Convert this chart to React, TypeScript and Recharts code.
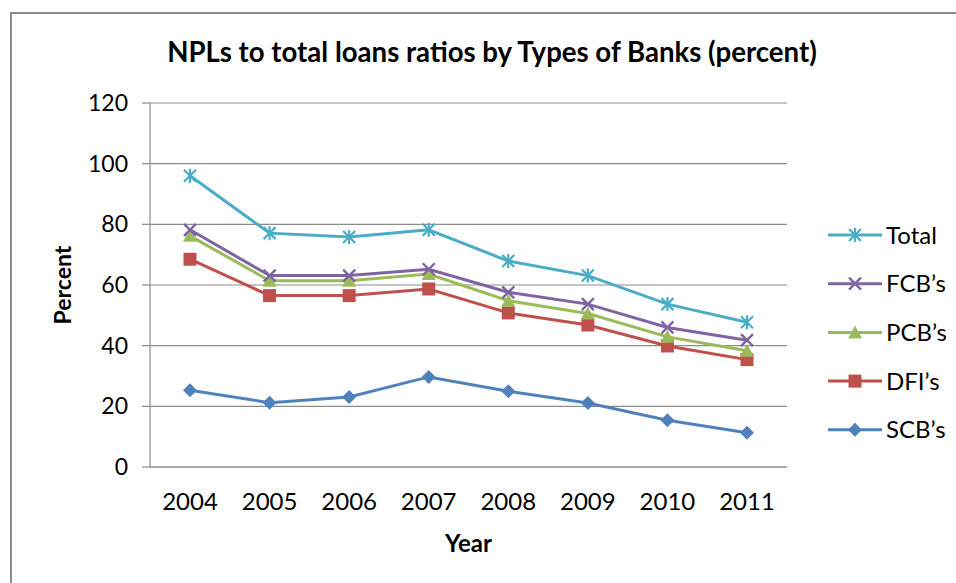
import React from "react";
import {
  LineChart,
  Line,
  XAxis,
  YAxis,
  CartesianGrid,
  Label,
} from "recharts";

const years = ["2004", "2005", "2006", "2007", "2008", "2009", "2010", "2011"];
const total = [96.0, 77.1, 75.8, 78.2, 67.9, 63.1, 53.7, 47.7];
const fcb = [78.2, 63.1, 63.1, 65.2, 57.6, 53.7, 46.0, 41.8];
const pcb = [76.2, 61.4, 61.4, 63.6, 54.8, 50.6, 42.9, 38.3];
const dfi = [68.5, 56.5, 56.5, 58.7, 50.8, 46.8, 39.9, 35.4];
const scb = [25.3, 21.2, 23.1, 29.7, 25.0, 21.1, 15.4, 11.3];
const yTicks = [0, 20, 40, 60, 80, 100, 120];

const data = years.map((year, i) => ({
  year,
  total: total[i],
  fcb: fcb[i],
  pcb: pcb[i],
  dfi: dfi[i],
  scb: scb[i],
}));

const FONT = "Lato, 'Open Sans', sans-serif";

type MarkerKind = "star" | "x" | "triangle" | "square" | "diamond";

function Marker({ kind, cx, cy, color }: { kind: MarkerKind; cx: number; cy: number; color: string }) {
  const s = 6;
  if (kind === "star") {
    return (
      <g stroke={color} strokeWidth={2.2}>
        <line x1={cx - s} y1={cy - s} x2={cx + s} y2={cy + s} />
        <line x1={cx - s} y1={cy + s} x2={cx + s} y2={cy - s} />
        <line x1={cx} y1={cy - s - 1} x2={cx} y2={cy + s + 1} />
      </g>
    );
  }
  if (kind === "x") {
    return (
      <g stroke={color} strokeWidth={2.4}>
        <line x1={cx - s} y1={cy - s} x2={cx + s} y2={cy + s} />
        <line x1={cx - s} y1={cy + s} x2={cx + s} y2={cy - s} />
      </g>
    );
  }
  if (kind === "triangle") {
    return <path d={`M${cx},${cy - 7} L${cx + 7},${cy + 6} L${cx - 7},${cy + 6} Z`} fill={color} />;
  }
  if (kind === "square") {
    return <rect x={cx - 6.5} y={cy - 6.5} width={13} height={13} fill={color} />;
  }
  return <path d={`M${cx},${cy - 7} L${cx + 7},${cy} L${cx},${cy + 7} L${cx - 7},${cy} Z`} fill={color} />;
}

const seriesList: { key: string; name: string; color: string; kind: MarkerKind }[] = [
  { key: "total", name: "Total", color: "#4BACC6", kind: "star" },
  { key: "fcb", name: "FCB’s", color: "#8064A2", kind: "x" },
  { key: "pcb", name: "PCB’s", color: "#9BBB59", kind: "triangle" },
  { key: "dfi", name: "DFI’s", color: "#C0504D", kind: "square" },
  { key: "scb", name: "SCB’s", color: "#4F81BD", kind: "diamond" },
];

function LegendBox() {
  return (
    <svg width={140} height={240} style={{ position: "absolute", left: 822, top: 221 }}>
      {seriesList.map((s, i) => {
        const y = 14 + i * 48.7;
        return (
          <g key={s.key}>
            <line x1={6} y1={y} x2={60} y2={y} stroke={s.color} strokeWidth={3} />
            <Marker kind={s.kind} cx={33} cy={y} color={s.color} />
            <text x={64} y={y + 8.5} fontSize={24} fontFamily={FONT} fill="#000">
              {s.name}
            </text>
          </g>
        );
      })}
    </svg>
  );
}

function PercentLabel(props: any) {
  const vb = props.viewBox || {};
  const cy = (vb.y ?? 103) + (vb.height ?? 364) / 2;
  const cx = 71;
  return (
    <text
      x={cx}
      y={cy}
      transform={`rotate(-90 ${cx} ${cy})`}
      textAnchor="middle"
      fontSize={23}
      fontWeight="bold"
      fontFamily={FONT}
      fill="#000"
    >
      Percent
    </text>
  );
}

export default function App() {
  return (
    <div style={{ position: "absolute", left: 0, top: 0, width: 956, height: 583, background: "#fff", overflow: "hidden" }}>
      <div
        style={{
          position: "absolute",
          left: 10,
          top: 12,
          width: 980,
          height: 600,
          border: "2px solid #8c8c8c",
          boxSizing: "border-box",
        }}
      />
      <div style={{ position: "absolute", left: 0, top: 0 }}>
        <LineChart width={956} height={583} data={data} margin={{ top: 103, right: 169, bottom: 86, left: 90 }}>
          <text x={492} y={62} textAnchor="middle" fontSize={27.6} fontWeight="bold" fontFamily={FONT} fill="#000">
            NPLs to total loans ratios by Types of Banks (percent)
          </text>
          <CartesianGrid vertical={false} stroke="#8c8c8c" strokeWidth={1.2} />
          <XAxis
            dataKey="year"
            height={30}
            padding={{ left: 40, right: 40 }}
            axisLine={{ stroke: "#8c8c8c", strokeWidth: 1.2 }}
            tickLine={false}
            tickMargin={20}
            tick={{ fontSize: 24, fontFamily: FONT, fill: "#000" }}
          >
            <Label value="Year" position="bottom" offset={38} fontSize={24} fontWeight="bold" fontFamily={FONT} fill="#000" />
          </XAxis>
          <YAxis
            width={60}
            domain={[0, 120]}
            ticks={yTicks}
            axisLine={{ stroke: "#8c8c8c", strokeWidth: 1.2 }}
            tickLine={{ stroke: "#8c8c8c", strokeWidth: 1.2 }}
            tickSize={8}
            tickMargin={14}
            tick={{ fontSize: 23, fontFamily: FONT, fill: "#000" }}
          >
            <Label content={PercentLabel} />
          </YAxis>
          {seriesList
            .slice()
            .reverse()
            .map((s) => (
              <Line
                key={s.key}
                dataKey={s.key}
                name={s.name}
                stroke={s.color}
                strokeWidth={3}
                isAnimationActive={false}
                dot={(p: any) => <Marker key={`${s.key}-${p.index}`} kind={s.kind} cx={p.cx} cy={p.cy} color={s.color} />}
                activeDot={false}
              />
            ))}
        </LineChart>
      </div>
      <LegendBox />
    </div>
  );
}
